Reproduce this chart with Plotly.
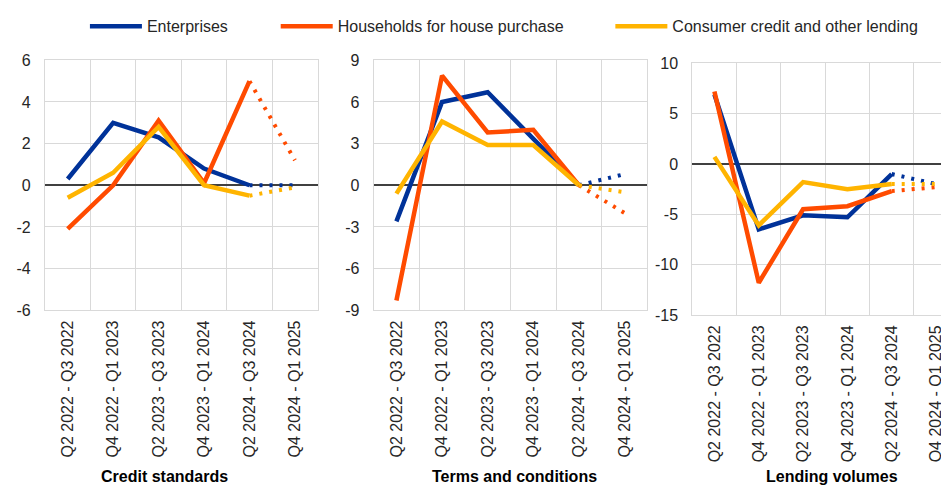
import plotly.graph_objects as go

categories = ["Q2 2022 - Q3 2022", "Q4 2022 - Q1 2023", "Q2 2023 - Q3 2023",
              "Q4 2023 - Q1 2024", "Q2 2024 - Q3 2024", "Q4 2024 - Q1 2025"]
series_names = ["Enterprises", "Households for house purchase", "Consumer credit and other lending"]
panel_titles = ["Credit standards", "Terms and conditions", "Lending volumes"]

# realised values (first five periods) and expectation (last period)
credit_enterprises = [0.3, 3.0, 2.3, 0.8, 0.0]
credit_households = [-2.1, 0.0, 3.1, 0.1, 5.0]
credit_consumer = [-0.6, 0.6, 2.8, 0.0, -0.5]
credit_expected = [0.0, 1.2, -0.1]

terms_enterprises = [-2.6, 6.0, 6.7, 3.3, 0.0]
terms_households = [-8.3, 7.9, 3.8, 4.0, 0.0]
terms_consumer = [-0.6, 4.6, 2.9, 2.9, 0.0]
terms_expected = [0.8, -2.0, -0.5]

volumes_enterprises = [6.9, -6.5, -5.1, -5.3, -1.0]
volumes_households = [7.2, -11.8, -4.5, -4.2, -2.7]
volumes_consumer = [0.7, -6.1, -1.8, -2.5, -2.0]
volumes_expected = [-2.0, -2.3, -2.0]

y_tickvals = [[-6, -4, -2, 0, 2, 4, 6], [-9, -6, -3, 0, 3, 6, 9], [-15, -10, -5, 0, 5, 10]]
y_ranges = [[-6, 6], [-9, 9], [-15, 10]]

colors = ["#003299", "#FF4B00", "#FFB400"]

panels = [
    [credit_enterprises, credit_households, credit_consumer, credit_expected],
    [terms_enterprises, terms_households, terms_consumer, terms_expected],
    [volumes_enterprises, volumes_households, volumes_consumer, volumes_expected],
]

# page offset of the figure (default body margin)
OFF = 8
W, H = 949 - OFF, 486 - OFF


def fx(px):
    return (px - OFF) / W


def fy(py):
    return 1 - (py - OFF) / H


x_px = [(45, 318), (374, 648), (693, 949)]
y_px = [(54, 313), (54, 313), (57, 318)]
x_ranges = [[-0.5, 5.5], [-0.5, 5.5], [-0.5, 5.27]]
title_x = [165, 515, 833]
FONT = "Liberation Sans, Arial, sans-serif"
TXT = "#262626"

fig = go.Figure()
legend_names = ["legend", "legend2", "legend3"]
for p, pdata in enumerate(panels):
    xa = "x" if p == 0 else f"x{p+1}"
    ya = "y" if p == 0 else f"y{p+1}"
    expected = pdata[3]
    for s in range(3):
        vals = pdata[s]
        fig.add_trace(go.Scatter(
            x=categories[:5], y=vals, mode="lines", name=series_names[s],
            line=dict(color=colors[s], width=4.5), xaxis=xa, yaxis=ya,
            showlegend=(p == 0), legend=legend_names[s], hoverinfo="skip"))
        fig.add_trace(go.Scatter(
            x=categories[4:6], y=[vals[4], expected[s]], mode="lines",
            line=dict(color=colors[s], width=4, dash="3px,7px"), xaxis=xa, yaxis=ya,
            showlegend=False, hoverinfo="skip"))

layout = dict(
    width=W, height=H, margin=dict(l=0, r=0, t=0, b=0),
    paper_bgcolor="white", plot_bgcolor="white",
    font=dict(family=FONT, size=16, color=TXT),
)
for p in range(3):
    xk = "xaxis" if p == 0 else f"xaxis{p+1}"
    yk = "yaxis" if p == 0 else f"yaxis{p+1}"
    ya = "y" if p == 0 else f"y{p+1}"
    xa = "x" if p == 0 else f"x{p+1}"
    layout[xk] = dict(
        domain=[fx(x_px[p][0]), min(1.0, fx(x_px[p][1]))], anchor=ya,
        type="category", categoryorder="array", categoryarray=categories,
        range=x_ranges[p], tickson="boundaries", tickangle=-90,
        showgrid=True, gridcolor="#d9d9d9", gridwidth=1,
        showline=True, linecolor="#d9d9d9", linewidth=1, mirror=True,
        ticks="", tickfont=dict(family=FONT, size=16, color=TXT),
        ticklabelstandoff=3, fixedrange=True)
    layout[yk] = dict(
        domain=[fy(y_px[p][1]), fy(y_px[p][0])], anchor=xa,
        range=y_ranges[p], tickmode="array", tickvals=y_tickvals[p],
        ticktext=[str(v) for v in y_tickvals[p]],
        showgrid=True, gridcolor="#d9d9d9", gridwidth=1,
        showline=True, linecolor="#d9d9d9", linewidth=1, mirror=True,
        zeroline=True, zerolinecolor="#404040", zerolinewidth=1.5,
        ticks="", tickfont=dict(family=FONT, size=16, color=TXT),
        ticklabelstandoff=10, fixedrange=True)

legend_text_x = [147, 338, 673]
for i, ln in enumerate(legend_names):
    layout[ln] = dict(
        x=fx(legend_text_x[i] - 62), y=fy(1), xanchor="left", yanchor="top",
        orientation="h", bgcolor="rgba(0,0,0,0)", borderwidth=0, itemwidth=52,
        font=dict(family=FONT, size=16, color=TXT))

annotations = []
for p in range(3):
    annotations.append(dict(
        text=f"<b>{panel_titles[p]}</b>", x=fx(title_x[p]), y=fy(475),
        xref="paper", yref="paper", xanchor="center", yanchor="top", showarrow=False,
        font=dict(family=FONT, size=16, color="#000000")))
layout["annotations"] = annotations

fig.update_layout(**layout)
fig.write_html("out.html")
